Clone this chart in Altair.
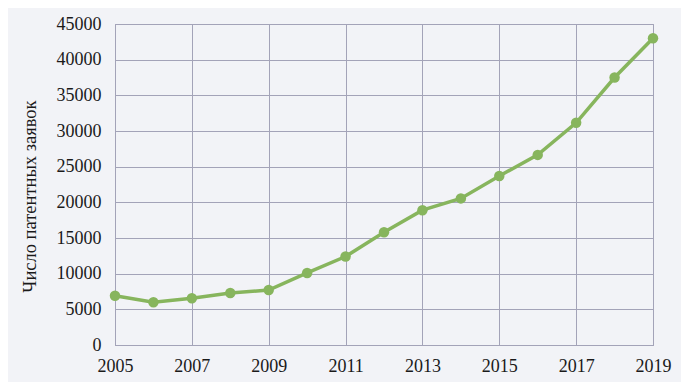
import altair as alt
import pandas as pd

years = list(range(2005, 2020))
applications = [6900, 6000, 6550, 7300, 7700, 10100, 12400, 15800, 18900, 20550, 23700, 26650, 31150, 37500, 43000]

df = pd.DataFrame({"year": years, "value": applications})

GREEN = "#87b55d"
GRID = "#a3a3b8"
FONT = "Liberation Serif"

base = alt.Chart(df).encode(
    x=alt.X("year:Q",
            scale=alt.Scale(domain=[2005, 2019], nice=False, zero=False),
            axis=alt.Axis(values=list(range(2005, 2020, 2)), format="d", title=None,
                          grid=True, ticks=False, domainColor=GRID, gridColor=GRID,
                          labelPadding=12, labelFontSize=18, labelFlush=False)),
    y=alt.Y("value:Q",
            scale=alt.Scale(domain=[0, 45000], nice=False),
            axis=alt.Axis(values=list(range(0, 45001, 5000)), format="d",
                          title="Число патентных заявок", titleFontSize=18.5,
                          titleFontWeight="normal", titlePadding=17, titleY=172,
                          grid=True, ticks=False, domainColor=GRID, gridColor=GRID,
                          labelPadding=14, labelFontSize=18, labelFlush=False)),
)

line = base.mark_line(color=GREEN, strokeWidth=3.5)
pts = base.mark_circle(color=GREEN, opacity=1, size=110)

chart = (line + pts).properties(
    width=538, height=321,
    background="#f2f3f7",
    padding={"left": 107, "top": 16, "right": 28, "bottom": 37},
    autosize=alt.AutoSizeParams(type="none"),
).configure_view(stroke=GRID, fill="#f2f3f7").configure_axis(
    labelFont=FONT, titleFont=FONT, labelColor="#1a1a1a", titleColor="#1a1a1a",
    gridOpacity=1, domainWidth=1, gridWidth=1,
)

chart.save("out.html", embed_options={"renderer": "svg", "actions": False})
